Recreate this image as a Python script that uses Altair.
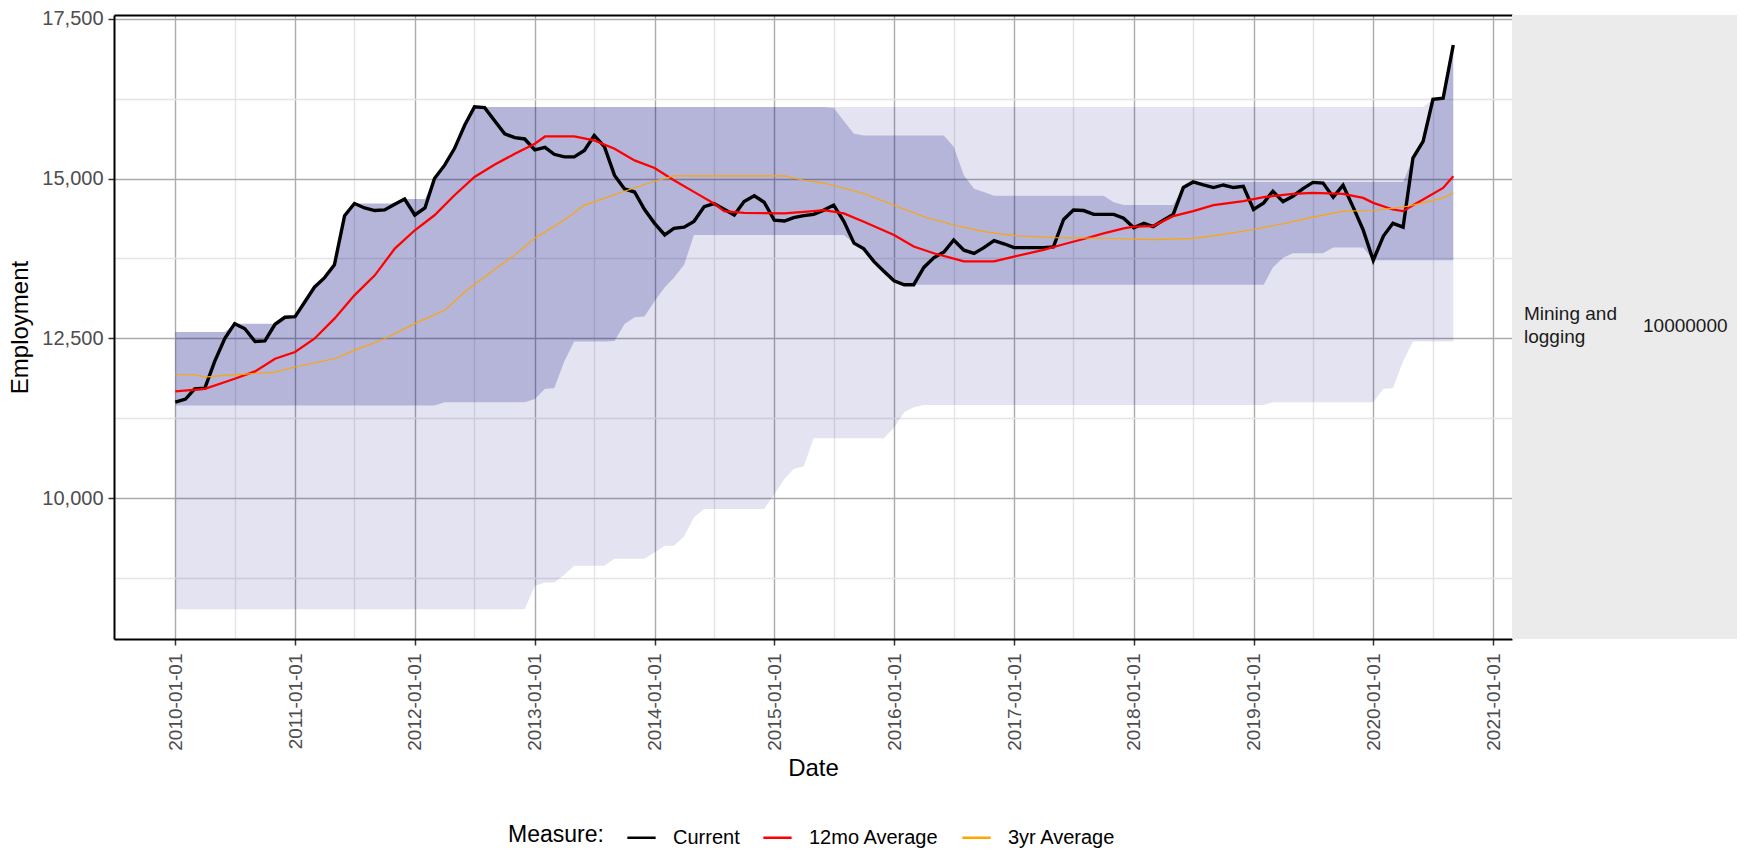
import altair as alt
import pandas as pd

# ---------------- data ----------------
start_month = "2010-01-01"
n_months = 129  # 2010-01 .. 2020-09

current = [
    11500, 11550, 11710, 11720, 12140, 12500, 12730, 12650, 12450, 12460,
    12720, 12830, 12840, 13080, 13300, 13450, 13650, 14420, 14610, 14540,
    14500, 14510, 14600, 14680, 14430, 14540, 15000, 15210, 15470, 15835,
    16122, 16110, 15900, 15700, 15640, 15620, 15450, 15490, 15380, 15340,
    15340, 15440, 15675, 15500, 15050, 14840, 14790, 14520, 14300, 14118,
    14220, 14240, 14330, 14560, 14610, 14520, 14430, 14640, 14730, 14630,
    14350, 14336, 14390, 14420, 14440, 14507, 14585, 14330, 13990, 13900,
    13700, 13550, 13400, 13339, 13339, 13610, 13760, 13850, 14040, 13880,
    13830, 13920, 14030, 13980, 13920, 13920, 13920, 13920, 13930, 14360,
    14507, 14500, 14440, 14440, 14440, 14380, 14232, 14300, 14250, 14350,
    14438, 14860, 14948, 14900, 14860, 14900, 14860, 14880, 14516, 14620,
    14802, 14640, 14724, 14844, 14940, 14930, 14709, 14896, 14550, 14200,
    13721, 14100, 14300, 14240, 15322, 15582, 16240, 16258, 17090,
]

avg12_months = [0, 3, 6, 8, 10, 12, 14, 16, 18, 20, 22, 24, 26, 28, 30, 32, 34, 36,
                37, 40, 42, 44, 46, 48, 50, 52, 54, 55, 57, 61, 64, 65, 67, 69, 72,
                74, 76, 79, 82, 84, 87, 89, 91, 93, 95, 96, 98, 100, 102, 104, 107,
                109, 112, 114, 117, 119, 120, 122, 123, 124, 125, 127, 128]
avg12_values = [11670, 11711, 11868, 11983, 12181, 12286, 12494, 12808, 13173, 13486,
                13904, 14191, 14426, 14739, 15026, 15220, 15389, 15545, 15659, 15659,
                15597, 15467, 15285, 15166, 14974, 14792, 14611, 14491, 14465, 14455,
                14491, 14507, 14455, 14325, 14118, 13936, 13832, 13703, 13703, 13780,
                13884, 13972, 14055, 14144, 14222, 14247, 14256, 14412, 14490, 14584,
                14646, 14709, 14761, 14776, 14761, 14698, 14620, 14516, 14490, 14584,
                14672, 14854, 15036]

avg36_months = [0, 2, 3, 5, 10, 12, 16, 18, 21, 24, 27, 29, 32, 34, 36, 39, 41, 45, 48,
                50, 61, 63, 65, 69, 72, 75, 78, 81, 84, 88, 93, 98, 102, 105, 108, 111,
                114, 117, 120, 123, 125, 127, 128]
avg36_values = [11931, 11931, 11894, 11920, 11972, 12051, 12181, 12312, 12494, 12730,
                12938, 13225, 13580, 13806, 14066, 14351, 14585, 14803, 14958, 15042,
                15042, 14974, 14930, 14766, 14584, 14403, 14273, 14170, 14107, 14076,
                14066, 14045, 14064, 14126, 14204, 14293, 14397, 14490, 14501, 14553,
                14620, 14698, 14776]

# 3-year band (darker)
dark_hi = ([12600] * 6 + [12730] * 5 + [12830, 12840, 13080, 13300, 13450, 13650, 14420]
           + [14610] * 5 + [14680] * 3 + [15000, 15210, 15470, 15835] + [16122] * 36
           + [16110, 15900, 15700] + [15675] * 9 + [15500, 15052, 14840, 14790]
           + [14730] * 12 + [14630] + [14585] * 6 + [14860] + [14948] * 22
           + [15322, 15582, 16240, 16258, 17090])
dark_lo = ([11450] * 27 + [11500] * 9 + [11550, 11710, 11720, 12140] + [12450] * 4
           + [12460, 12720, 12830, 12840, 13080, 13300, 13450, 13650] + [14118] * 16
           + [13990, 13900, 13700, 13550, 13400] + [13339] * 37 + [13610, 13760]
           + [13830] * 4 + [13920] * 4 + [13721] * 9)
# 10-year band (lighter)
light_hi = ([12600] * 6 + [12730] * 5 + [12830, 12840, 13080, 13300, 13450, 13650, 14420]
            + [14610] * 5 + [14680] * 3 + [15000, 15210, 15470, 15835] + [16122] * 96
            + [16240, 16258, 17090])
light_lo = ([8260] * 36 + [8630, 8680, 8680, 8800] + [8940] * 4 + [9050] * 4
            + [9150, 9255, 9255, 9400, 9700] + [9830] * 7 + [10060, 10300, 10456, 10500]
            + [10936] * 8 + [11100, 11343, 11420] + [11455] * 35 + [11500] * 11
            + [11710, 11720, 12140] + [12450] * 5)

measures = ["Current", "12mo Average", "3yr Average"]
measure_colors = ["#000000", "#ff0000", "#ffa500"]
measure_widths = [3.4, 1.15, 1.15]

strip_industry = "Mining and\nlogging"
strip_code = "10000000"

# ---------------- tables ----------------
dates = pd.date_range(start_month, periods=n_months, freq="MS")
date_str = dates.strftime("%Y-%m-%d")

band_df = pd.DataFrame({
    "date": date_str,
    "dark_lo": dark_lo, "dark_hi": dark_hi,
    "light_lo": light_lo, "light_hi": light_hi,
})

lines_df = pd.concat([
    pd.DataFrame({"date": date_str, "value": current, "measure": "Current"}),
    pd.DataFrame({"date": [date_str[m] for m in avg12_months], "value": avg12_values,
                  "measure": "12mo Average"}),
    pd.DataFrame({"date": [date_str[m] for m in avg36_months], "value": avg36_values,
                  "measure": "3yr Average"}),
], ignore_index=True)

# ---------------- scales & axes ----------------
xscale = alt.Scale(domain=[alt.DateTime(year=2009, month=6, date=28),
                           alt.DateTime(year=2021, month=2, date=27)], nice=False)
yscale = alt.Scale(domain=[7795, 17560], nice=False, zero=False)

x_values = []
for yr in range(2010, 2022):
    x_values.append(alt.DateTime(year=yr, month=1, date=1))
    if yr < 2021:
        x_values.append(alt.DateTime(year=yr, month=7, date=1))
y_values = [8750, 10000, 11250, 12500, 13750, 15000, 16250, 17500]

MAJOR = "#ababab"
MINOR = "#e4e4e4"
FONT = "Liberation Sans"

x_axis = alt.Axis(
    values=x_values, title="Date", format="%Y-%m-%d",
    labelExpr="month(datum.value) == 0 ? timeFormat(datum.value, '%Y-%m-%d') : ''",
    labelAngle=270, labelFontSize=19, labelColor="#4d4d4d", labelPadding=8,
    labelOverlap=False, labelFlush=False, labelBound=False,
    tickSize=6, tickWidth=1.5,
    tickColor={"condition": {"test": "month(datum.value) == 0", "value": "#333333"},
               "value": "rgba(0,0,0,0)"},
    grid=True, gridWidth=1.4,
    gridColor={"condition": {"test": "month(datum.value) == 0", "value": MAJOR},
               "value": MINOR},
    domainColor="#000000", domainWidth=2,
    titleFontSize=24, titleFontWeight="normal", titleColor="#000000", titlePadding=6,
)
y_axis = alt.Axis(
    values=y_values, title="Employment",
    labelExpr="datum.value % 2500 == 0 ? format(datum.value, ',') : ''",
    labelFontSize=20, labelColor="#4d4d4d", labelPadding=5,
    labelOverlap=False, labelFlush=False, labelBound=False,
    tickSize=6, tickWidth=1.5,
    tickColor={"condition": {"test": "datum.value % 2500 == 0", "value": "#333333"},
               "value": "rgba(0,0,0,0)"},
    grid=True, gridWidth=1.4,
    gridColor={"condition": {"test": "datum.value % 2500 == 0", "value": MAJOR},
               "value": MINOR},
    domainColor="#000000", domainWidth=2,
    titleFontSize=24, titleFontWeight="normal", titleColor="#000000", titlePadding=9,
)
top_axis = alt.Axis(orient="top", labels=False, ticks=False, grid=False, title=None,
                    domainColor="#000000", domainWidth=2)

# ---------------- layers ----------------
light = alt.Chart(band_df).mark_area(color="#000080", opacity=0.11, interpolate="linear").encode(
    x=alt.X("date:T", scale=xscale, axis=None),
    y=alt.Y("light_lo:Q", scale=yscale, axis=None),
    y2="light_hi:Q",
)
dark = alt.Chart(band_df).mark_area(color="#000080", opacity=0.2, interpolate="linear").encode(
    x=alt.X("date:T", scale=xscale, axis=top_axis),
    y=alt.Y("dark_lo:Q", scale=yscale, axis=None),
    y2="dark_hi:Q",
)
lines = alt.Chart(lines_df).mark_line().encode(
    x=alt.X("date:T", scale=xscale, axis=x_axis),
    y=alt.Y("value:Q", scale=yscale, axis=y_axis),
    color=alt.Color(
        "measure:N",
        scale=alt.Scale(domain=measures, range=measure_colors),
        legend=alt.Legend(
            title="Measure:", orient="none", legendX=394, legendY=807,
            direction="horizontal", titleOrient="left",
            titleFontSize=23, titleFontWeight="normal", titleColor="#000000",
            titleFont=FONT, labelFont=FONT,
            labelFontSize=20, labelColor="#000000",
            symbolType="stroke", symbolSize=800, symbolStrokeWidth=2.5,
            labelOffset=16, columnPadding=18, titlePadding=22,
        ),
    ),
    strokeWidth=alt.StrokeWidth(
        "measure:N", scale=alt.Scale(domain=measures, range=measure_widths), legend=None
    ),
    order=alt.Order("date:T"),
)

main = alt.layer(light, dark, lines).resolve_axis(
    x="independent", y="independent"
).properties(width=1398, height=624)

strip = alt.layer(
    alt.Chart(pd.DataFrame({"label": [strip_industry]})).mark_text(
        align="left", baseline="middle", fontSize=19, color="#1a1a1a",
        lineBreak="\n", lineHeight=23, font=FONT,
    ).encode(x=alt.value(12), y=alt.value(299), text="label:N"),
    alt.Chart(pd.DataFrame({"label": [strip_code]})).mark_text(
        align="left", baseline="middle", fontSize=19, color="#1a1a1a", font=FONT,
    ).encode(x=alt.value(131), y=alt.value(311), text="label:N"),
).properties(width=225, height=624, view=alt.ViewBackground(fill="#ebebeb", stroke=None))

chart = alt.hconcat(main, strip, spacing=0, bounds="flush").resolve_legend(
    color="independent"
).properties(
    padding={"left": 0, "top": 0, "right": 0, "bottom": 0},
).configure(font=FONT).configure_view(stroke=None)

chart.save("out.html", embed_options={"renderer": "svg", "actions": False})
